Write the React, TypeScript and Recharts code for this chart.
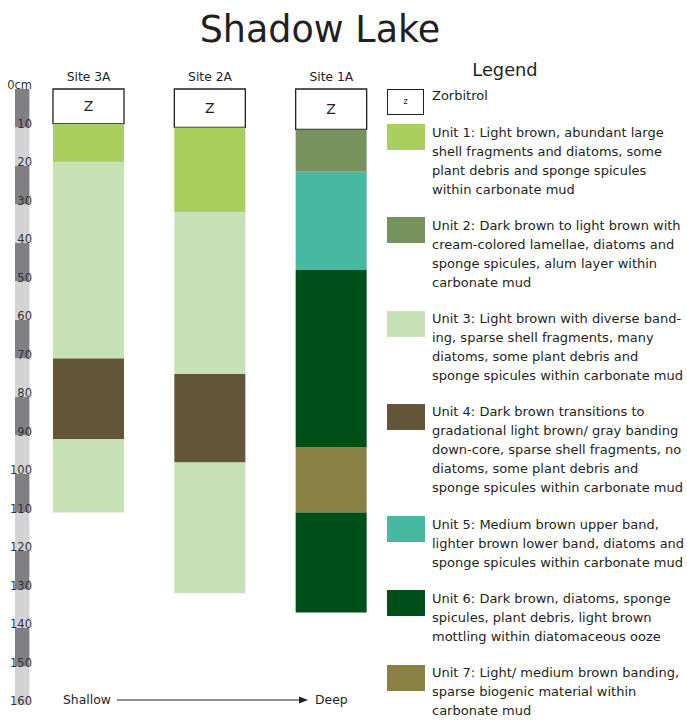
import React from "react"
import { BarChart, Bar, Cell, XAxis, YAxis, LabelList } from "recharts"

// core columns: zorbitrol cap on top, then unit layers down to the bottom depth (cm)
const SITES = ["Site 3A", "Site 2A", "Site 1A"]
const ZORBITROL_BOTTOM = [9, 10, 10.5]
const SITE_UNITS = [
    [1, 3, 4, 3],
    [1, 3, 4, 3],
    [2, 5, 6, 7, 6],
]
const SITE_BOTTOMS = [
    [19, 70, 91, 110],
    [32, 74, 97, 131],
    [21.5, 47, 93, 110, 136],
]

const UNIT_COLORS: Record<number, string> = {
    1: "#a9d05f",
    2: "#76935e",
    3: "#c7e1b6",
    4: "#62553a",
    5: "#47b9a0",
    6: "#004f18",
    7: "#8b8043",
}

// depth scale on the left
const DEPTH_TICKS = [0, 10, 20, 30, 40, 50, 60, 70, 80, 90, 100, 110, 120, 130, 140, 150, 160]
const DEPTH_LABELS = ["0cm", "10", "20", "30", "40", "50", "60", "70", "80", "90", "100", "110", "120", "130", "140", "150", "160"]
const SCALE_SEGMENTS = [10, 10, 10, 10, 10, 10, 10, 10, 10, 10, 10, 10, 10, 10, 10, 10]
const SCALE_COLORS = ["#808084", "#d3d3d6"]

const LEGEND_ITEMS = [
    { unit: 1, lines: ["Unit 1: Light brown, abundant large", "shell fragments and diatoms, some", "plant debris and sponge spicules", "within carbonate mud"] },
    { unit: 2, lines: ["Unit 2: Dark brown to light brown with", "cream-colored lamellae, diatoms and", "sponge spicules, alum layer within", "carbonate mud"] },
    { unit: 3, lines: ["Unit 3: Light brown with diverse band-", "ing, sparse shell fragments, many", "diatoms, some plant debris and", "sponge spicules within carbonate mud"] },
    { unit: 4, lines: ["Unit 4: Dark brown transitions to", "gradational light brown/ gray banding", "down-core, sparse shell fragments, no", "diatoms, some plant debris and", "sponge spicules within carbonate mud"] },
    { unit: 5, lines: ["Unit 5: Medium brown upper band,", "lighter brown lower band, diatoms and", "sponge spicules within carbonate mud"] },
    { unit: 6, lines: ["Unit 6: Dark brown, diatoms, sponge", "spicules, plant debris, light brown", "mottling within diatomaceous ooze"] },
    { unit: 7, lines: ["Unit 7: Light/ medium brown banding,", "sparse biogenic material within", "carbonate mud"] },
]

const LAYER_KEYS = ["l1", "l2", "l3", "l4", "l5"]
const FONT = "'DejaVu Sans', Verdana, sans-serif"
const INK = "#231f20"

const siteRows = SITES.map((site, i) => {
    const row: Record<string, any> = { site, z: ZORBITROL_BOTTOM[i] }
    let top = ZORBITROL_BOTTOM[i]
    SITE_BOTTOMS[i].forEach((bottom, k) => {
        row[LAYER_KEYS[k]] = bottom - top
        top = bottom
    })
    return row
})

const scaleRow: Record<string, any> = { name: "scale" }
SCALE_SEGMENTS.forEach((v, k) => (scaleRow["d" + k] = v))

const PLOT_TOP = 89
const PLOT_BOTTOM_GAP = 15
const CHART_H = 720

function DepthTick(props: any) {
    const { y, payload } = props
    const idx = DEPTH_TICKS.indexOf(payload.value)
    return (
        <text x={32} y={y} textAnchor="end" fontSize={11.5} fill="#333" fontFamily={FONT}>
            {DEPTH_LABELS[idx]}
        </text>
    )
}

export default function App() {
    return (
        <div style={{ position: "absolute", left: 0, top: 0, width: 687, height: 720, background: "#fff", fontFamily: FONT, color: INK }}>
            <div style={{ position: "absolute", left: 0, top: 8, width: 640, textAlign: "center", fontSize: 36.5, lineHeight: "44px" }}>
                Shadow Lake
            </div>

            {/* depth scale */}
            <div style={{ position: "absolute", left: 0, top: 0 }}>
                <BarChart width={44} height={CHART_H} data={[scaleRow]} margin={{ top: PLOT_TOP, right: 14, left: 0, bottom: PLOT_BOTTOM_GAP }}>
                    <XAxis dataKey="name" hide />
                    {SCALE_SEGMENTS.map((_, k) => (
                        <Bar key={k} dataKey={"d" + k} stackId="scale" barSize={16} fill={SCALE_COLORS[k % 2]} isAnimationActive={false} />
                    ))}
                    <YAxis
                        domain={[0, 160]}
                        reversed
                        width={14}
                        ticks={DEPTH_TICKS}
                        interval={0}
                        axisLine={false}
                        tickLine={false}
                        tick={<DepthTick />}
                    />
                </BarChart>
            </div>

            {/* core columns */}
            <div style={{ position: "absolute", left: 0, top: 0 }}>
                <BarChart width={392} height={CHART_H} data={siteRows} margin={{ top: PLOT_TOP - 20, right: 0, left: 28, bottom: PLOT_BOTTOM_GAP }}>
                    <XAxis
                        dataKey="site"
                        orientation="top"
                        height={20}
                        axisLine={false}
                        tickLine={false}
                        tick={{ fontSize: 12.3, fill: INK, fontFamily: FONT }}
                    />
                    <YAxis domain={[0, 160]} reversed hide />
                    <Bar dataKey="z" stackId="core" barSize={71} fill="#fff" stroke={INK} strokeWidth={1.3} isAnimationActive={false}>
                        <LabelList dataKey="z" position="center" formatter={() => "Z"} fill={INK} fontSize={14} fontFamily={FONT} />
                    </Bar>
                    {LAYER_KEYS.map((key, k) => (
                        <Bar key={key} dataKey={key} stackId="core" barSize={71} isAnimationActive={false}>
                            {SITES.map((s, i) => (
                                <Cell key={s} fill={UNIT_COLORS[SITE_UNITS[i][k]] || "transparent"} />
                            ))}
                        </Bar>
                    ))}
                </BarChart>
            </div>

            {/* legend */}
            <div style={{ position: "absolute", left: 387, top: 58, width: 300, fontSize: 13, lineHeight: "19px" }}>
                <div style={{ position: "absolute", left: 118, top: 0, fontSize: 17.8, lineHeight: "24px", transform: "translateX(-50%)", whiteSpace: "nowrap" }}>
                    Legend
                </div>
                <div style={{ position: "absolute", top: 26.5, left: 0 }}>
                    <div style={{ position: "relative", height: 19, marginBottom: 19 }}>
                        <div style={{ position: "absolute", left: 0, top: 4, width: 35, height: 24, border: "1.3px solid " + INK, fontSize: 8, lineHeight: "24px", textAlign: "center" }}>
                            z
                        </div>
                        <div style={{ position: "absolute", left: 45, top: 1, whiteSpace: "nowrap" }}>Zorbitrol</div>
                    </div>
                    {LEGEND_ITEMS.map((item) => (
                        <div key={item.unit} style={{ position: "relative", height: item.lines.length * 19, marginBottom: 17.3 }}>
                            <div style={{ position: "absolute", left: 0, top: 1.5, width: 38, height: 26, background: UNIT_COLORS[item.unit] }} />
                            <div style={{ position: "absolute", left: 45, top: 0, whiteSpace: "nowrap" }}>
                                {item.lines.map((line) => (
                                    <div key={line}>{line}</div>
                                ))}
                            </div>
                        </div>
                    ))}
                </div>
            </div>

            {/* shallow -> deep */}
            <div style={{ position: "absolute", left: 63, top: 691, fontSize: 12.4, lineHeight: "18px", whiteSpace: "nowrap" }}>Shallow</div>
            <svg style={{ position: "absolute", left: 115, top: 694 }} width={195} height={12}>
                <line x1={2} y1={6} x2={186} y2={6} stroke={INK} strokeWidth={1} />
                <polygon points="184,2.5 193,6 184,9.5" fill={INK} />
            </svg>
            <div style={{ position: "absolute", left: 315, top: 691, fontSize: 12.4, lineHeight: "18px", whiteSpace: "nowrap" }}>Deep</div>
        </div>
    )
}
